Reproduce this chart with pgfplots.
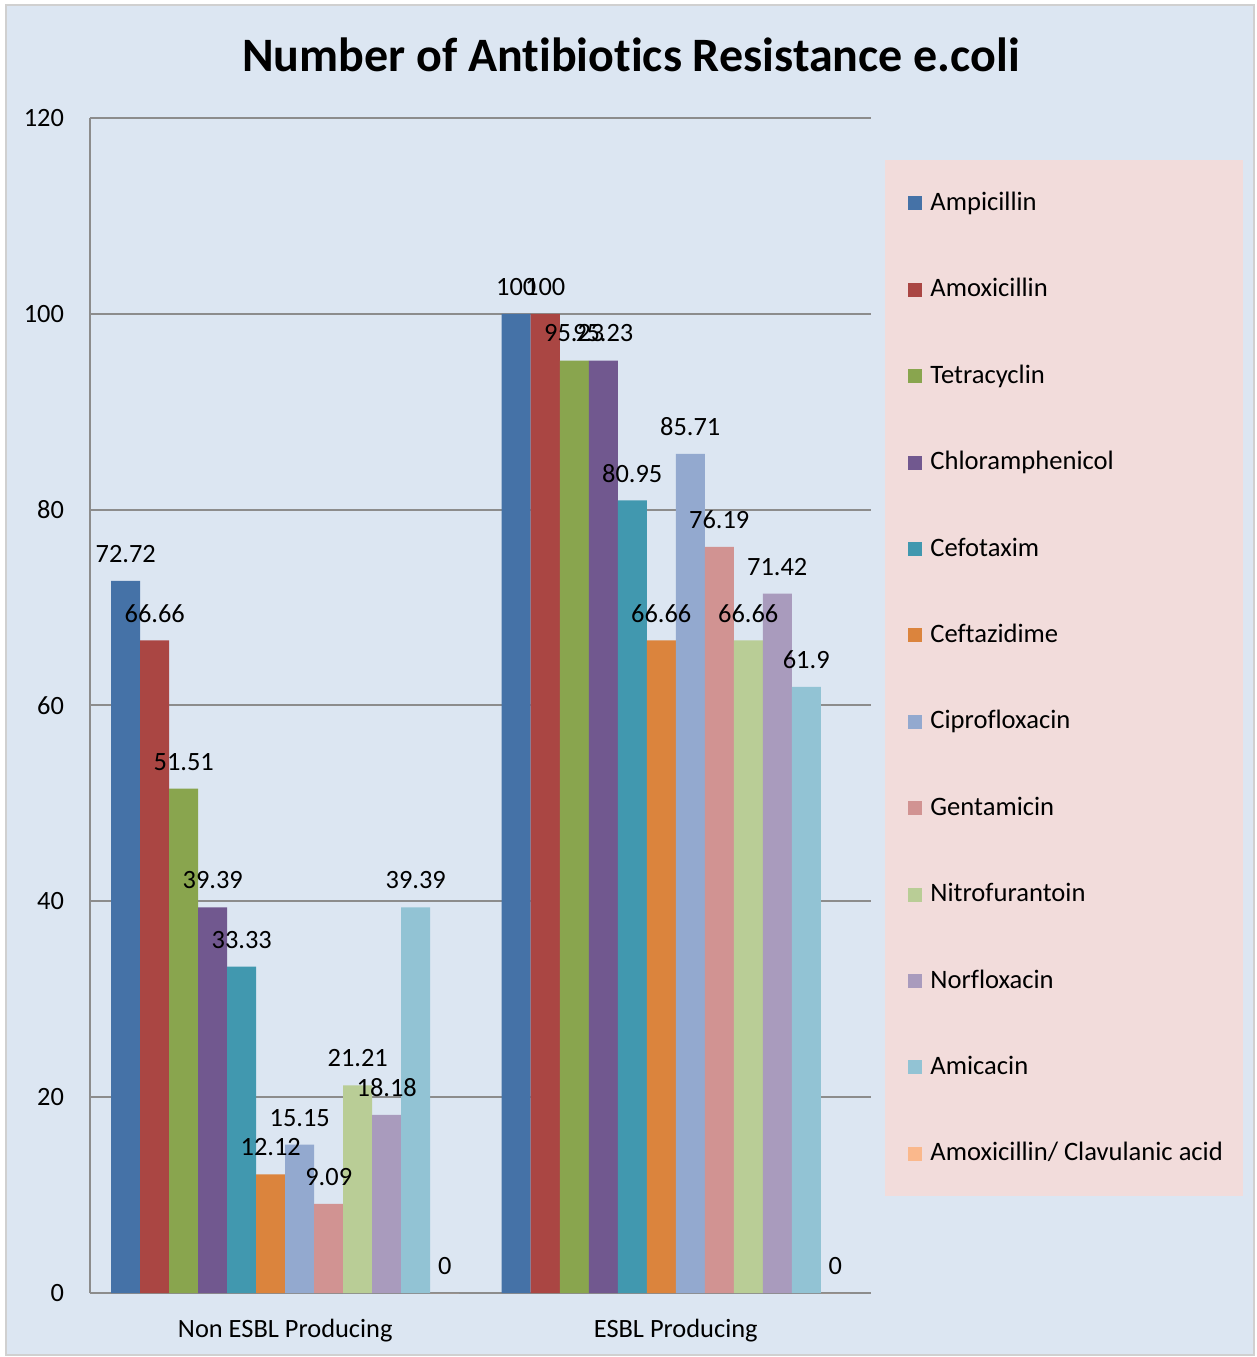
\documentclass[border=0pt]{standalone}
\usepackage{fontspec}
\setmainfont{Carlito}[Ligatures=NoCommon]
\usepackage{pgfplots}
\pgfplotsset{compat=1.18}
\definecolor{bgblue}{HTML}{DCE6F2}
\definecolor{legpink}{HTML}{F2DCDB}
\definecolor{bordergray}{HTML}{D0D0D0}
\definecolor{gridgray}{HTML}{8C8C8C}
\definecolor{c1}{HTML}{4572A7}
\definecolor{c2}{HTML}{AA4643}
\definecolor{c3}{HTML}{89A54E}
\definecolor{c4}{HTML}{71588F}
\definecolor{c5}{HTML}{4198AF}
\definecolor{c6}{HTML}{DB843D}
\definecolor{c7}{HTML}{93A9CF}
\definecolor{c8}{HTML}{D19392}
\definecolor{c9}{HTML}{B9CD96}
\definecolor{c10}{HTML}{A99BBD}
\definecolor{c11}{HTML}{92C3D4}
\definecolor{c12}{HTML}{FAB88C}
\begin{document}
\begin{tikzpicture}
\useasboundingbox (0,0) rectangle (628.5pt,678.5pt);
\fill[white] (0,0) rectangle (628.5pt,678.5pt);
\filldraw[fill=bgblue, draw=bordergray, line width=1pt] (3pt,1pt) rectangle (627pt,676pt);
\fill[legpink] (442.5pt,80.5pt) rectangle (621.5pt,598.5pt);
\begin{axis}[
  at={(45pt,32pt)}, anchor=south west,
  scale only axis, width=390.5pt, height=587.5pt,
  ybar=0pt, bar width=14.5pt,
  xmin=-0.5, xmax=1.5, ymin=0, ymax=120,
  xtick={0,1}, xticklabels={Non ESBL Producing, ESBL Producing},
  ytick={0,20,...,120},
  major tick length=0pt,
  axis lines=left, axis line style={-, draw=gridgray, line width=1pt},
  ymajorgrids, major grid style={draw=gridgray, line width=1pt},
  /pgf/number format/assume math mode=true,
  ticklabel style={font=\fontsize{13.2}{15}\selectfont},
  xticklabel style={yshift=-9.5pt},
  yticklabel style={xshift=-9.5pt},
  nodes near coords,
  every node near coord/.append style={anchor=center, yshift=13.5pt, font=\fontsize{13.2}{15}\selectfont, inner sep=0pt},
  every axis plot/.append style={draw=none},
  legend image code/.code={\fill[#1,draw=none] (0pt,-3pt) rectangle (7pt,4pt);},
  legend cell align=left,
  legend style={at={(axis description cs:1.0474,0.9353)}, anchor=north west,
    draw=none, fill=none, inner sep=0pt,
    font=\fontsize{13.3}{15}\selectfont,
    nodes={inner sep=0pt, text height=8pt, text depth=2pt},
    row sep=33.2pt,
    /tikz/every odd column/.append style={column sep=4pt}},
]
\addplot[fill=c1] coordinates {(0,72.72) (1,100)};
\addplot[fill=c2] coordinates {(0,66.66) (1,100)};
\addplot[fill=c3] coordinates {(0,51.51) (1,95.23)};
\addplot[fill=c4] coordinates {(0,39.39) (1,95.23)};
\addplot[fill=c5] coordinates {(0,33.33) (1,80.95)};
\addplot[fill=c6] coordinates {(0,12.12) (1,66.66)};
\addplot[fill=c7] coordinates {(0,15.15) (1,85.71)};
\addplot[fill=c8] coordinates {(0,9.09) (1,76.19)};
\addplot[fill=c9] coordinates {(0,21.21) (1,66.66)};
\addplot[fill=c10] coordinates {(0,18.18) (1,71.42)};
\addplot[fill=c11] coordinates {(0,39.39) (1,61.9)};
\addplot[fill=c12] coordinates {(0,0) (1,0)};
\legend{Ampicillin, Amoxicillin, Tetracyclin, Chloramphenicol, Cefotaxim, Ceftazidime, Ciprofloxacin, Gentamicin, Nitrofurantoin, Norfloxacin, Amicacin, Amoxicillin/ Clavulanic acid}
\end{axis}
\node[anchor=base, font=\bfseries\fontsize{24}{28}\selectfont, inner sep=0pt] at (315.5pt,642.5pt) {Number of Antibiotics Resistance e.coli};
\end{tikzpicture}
\end{document}
